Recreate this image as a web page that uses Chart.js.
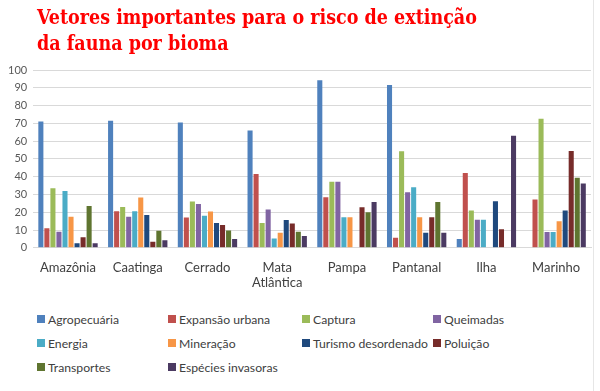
<!DOCTYPE html>
<html>
<head>
<meta charset="utf-8">
<script src="https://cdn.jsdelivr.net/npm/chart.js@4"></script>
<style>
  body { margin: 0; background: #fff; }
  #wrap { position: relative; width: 600px; height: 391px; overflow: hidden; }
  #title { position: absolute; left: 37px; top: 5px; color: #ff0000; font: bold 19.5px "DejaVu Serif Condensed", "DejaVu Serif", serif; line-height: 26px; }
  #chartBox { position: absolute; left: 0; top: 0; width: 600px; height: 300px; }
  #legend { position: absolute; left: 37px; top: 311px; display: grid; grid-template-columns: 131px 134px 131px 140px; row-gap: 8px; font: 12.2px Lato, sans-serif; color: #404040; }
  #legend div { display: flex; align-items: center; height: 16px; white-space: nowrap; }
  #legend span { display: inline-block; width: 8px; height: 8px; margin-right: 3px; }
  #frame { position: absolute; left: 593px; top: 0; width: 1px; height: 391px; background: #e6e6e6; }
</style>
</head>
<body>
<div id="wrap">
  <div id="chartBox"><canvas id="chart"></canvas></div>
  <div id="title">Vetores importantes para o risco de extinção<br>da fauna por bioma</div>
  <div id="legend"></div>
  <div id="frame"></div>
</div>
<script>
// biomas
const biomas = ['Amazônia', 'Caatinga', 'Cerrado', ['Mata', 'Atlântica'], 'Pampa', 'Pantanal', 'Ilha', 'Marinho'];

// vetores (series names and colours)
const vetores = ['Agropecuária', 'Expansão urbana', 'Captura', 'Queimadas', 'Energia',
  'Mineração', 'Turismo desordenado', 'Poluição', 'Transportes', 'Espécies invasoras'];
const cores = ['#4f81bd', '#c0504d', '#9bbb59', '#8064a2', '#4bacc6',
  '#f79646', '#1f497d', '#772c2a', '#5f7530', '#4b3a62'];

// percentage per bioma, one array per vetor
const agropecuaria = [71, 71.5, 70.5, 66, 94.3, 91.5, 5, 0];
const expansaoUrbana = [11, 20.5, 17, 41.5, 28.5, 5.7, 42, 27.2];
const captura = [33.5, 23, 26, 14, 37.2, 54.3, 21, 72.6];
const queimadas = [9, 17.4, 24.7, 21.5, 37.2, 31.3, 15.8, 8.9];
const energia = [32, 20.6, 18, 5.3, 17.2, 34.1, 15.8, 8.9];
const mineracao = [17.5, 28.3, 20.4, 8.5, 17.2, 17.2, 0, 15];
const turismo = [2.5, 18.5, 14, 15.7, 0, 8.5, 26.2, 21];
const poluicao = [6, 3.4, 12.8, 13.6, 22.8, 17.2, 10.4, 54.5];
const transportes = [23.5, 9.6, 9.8, 9, 20, 25.7, 0, 39.4];
const especiesInvasoras = [2.5, 4.2, 4.9, 6.6, 25.7, 8.5, 63, 36.2];

const valores = [agropecuaria, expansaoUrbana, captura, queimadas, energia,
  mineracao, turismo, poluicao, transportes, especiesInvasoras];

const yTicks = [0, 10, 20, 30, 40, 50, 60, 70, 80, 90, 100];

const datasets = vetores.map((nome, i) => ({
  label: nome,
  data: valores[i],
  backgroundColor: cores[i],
  categoryPercentage: 0.865,
  barPercentage: 0.84
}));

new Chart(document.getElementById('chart'), {
  type: 'bar',
  data: { labels: biomas, datasets: datasets },
  options: {
    responsive: true,
    maintainAspectRatio: false,
    animation: false,
    layout: { padding: { left: 2, right: 9, top: 70, bottom: 5 } },
    plugins: {
      legend: { display: false },
      tooltip: { enabled: false }
    },
    scales: {
      x: {
        grid: { display: false },
        border: { color: '#d9d9d9' },
        ticks: { color: '#404040', font: { family: 'Lato', size: 13 }, padding: 4, maxRotation: 0, autoSkip: false }
      },
      y: {
        min: 0,
        max: 100,
        afterBuildTicks: (axis) => { axis.ticks = yTicks.map(v => ({ value: v })); },
        grid: { color: '#d9d9d9', drawTicks: false },
        border: { display: false },
        ticks: { color: '#595959', font: { family: 'Lato', size: 11 }, padding: 6 }
      }
    }
  }
});

// legend in four columns, like the original
const legend = document.getElementById('legend');
vetores.forEach((nome, i) => {
  const item = document.createElement('div');
  item.innerHTML = '<span style="background:' + cores[i] + '"></span>' + nome;
  legend.appendChild(item);
});
</script>
</body>
</html>
